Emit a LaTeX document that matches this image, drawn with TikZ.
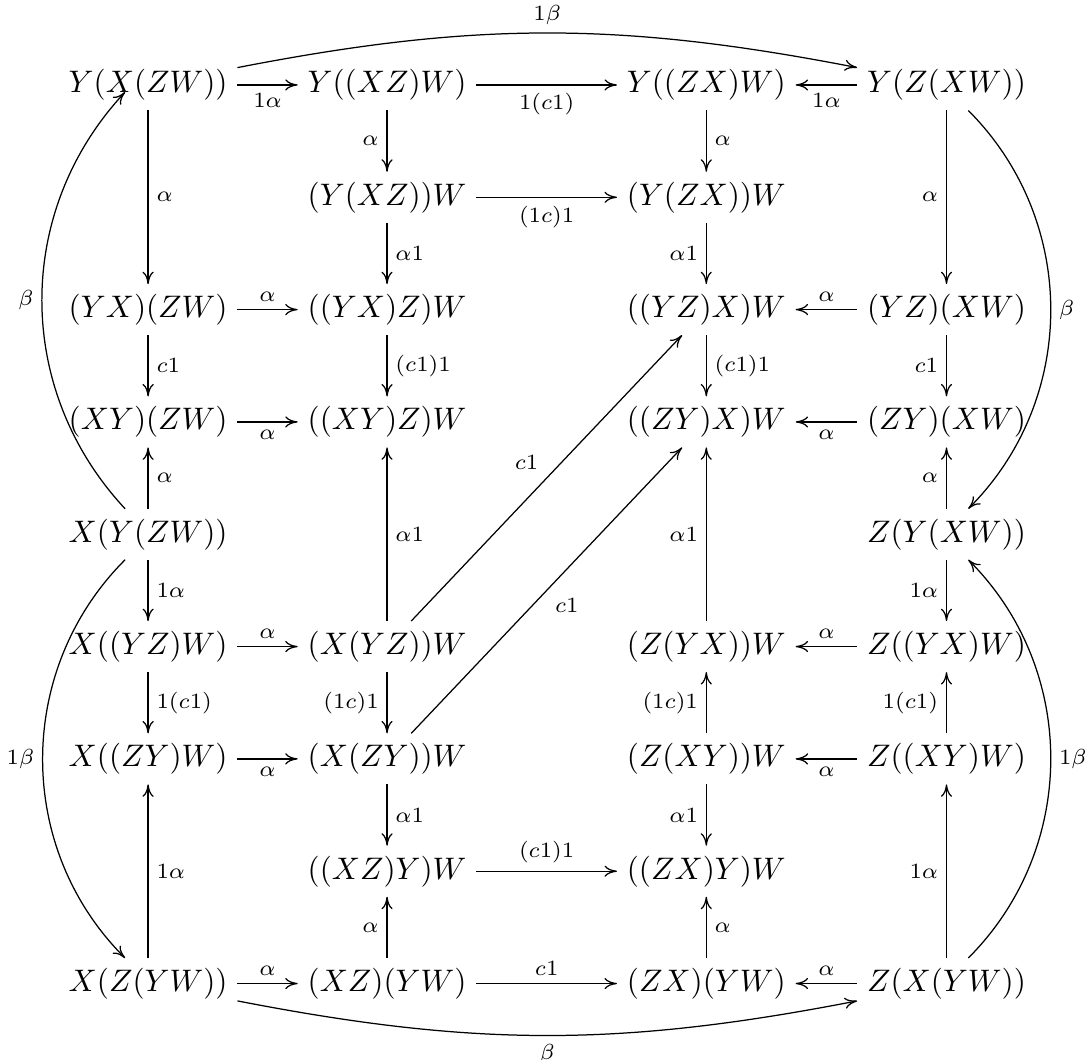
\documentclass[tikz,border=0pt]{standalone}
\usepackage{amsmath,amssymb}
\usepackage{tikz}
\usetikzlibrary{arrows.meta}

\begin{document}
\begin{tikzpicture}[x=1pt,y=1pt,
  ob/.style={inner sep=3pt,text height=7.5pt,text depth=2.5pt},
  arr/.style={-{Computer Modern Rightarrow[length=4pt,width=3.6pt]},line width=0.4pt},
  lab/.style={font=\scriptsize,inner sep=2.5pt},
]
  \useasboundingbox (0,0) rectangle (350,-340.5);
  % objects, row by row
  \node[ob] (a1) at (47.6,-27.3) {$Y(X(ZW))$};
  \node[ob] (b1) at (124.4,-27.3) {$Y((XZ)W)$};
  \node[ob] (c1) at (227,-27.3) {$Y((ZX)W)$};
  \node[ob] (d1) at (304.2,-27.3) {$Y(Z(XW))$};
  \node[ob] (b2) at (124.4,-63.4) {$(Y(XZ))W$};
  \node[ob] (c2) at (227,-63.4) {$(Y(ZX))W$};
  \node[ob] (a3) at (47.6,-99.5) {$(YX)(ZW)$};
  \node[ob] (b3) at (124.4,-99.5) {$((YX)Z)W$};
  \node[ob] (c3) at (227,-99.5) {$((YZ)X)W$};
  \node[ob] (d3) at (304.2,-99.5) {$(YZ)(XW)$};
  \node[ob] (a4) at (47.6,-135.6) {$(XY)(ZW)$};
  \node[ob] (b4) at (124.4,-135.6) {$((XY)Z)W$};
  \node[ob] (c4) at (227,-135.6) {$((ZY)X)W$};
  \node[ob] (d4) at (304.2,-135.6) {$(ZY)(XW)$};
  \node[ob] (a5) at (47.6,-171.7) {$X(Y(ZW))$};
  \node[ob] (d5) at (304.2,-171.7) {$Z(Y(XW))$};
  \node[ob] (a6) at (47.6,-207.8) {$X((YZ)W)$};
  \node[ob] (b6) at (124.4,-207.8) {$(X(YZ))W$};
  \node[ob] (c6) at (227,-207.8) {$(Z(YX))W$};
  \node[ob] (d6) at (304.2,-207.8) {$Z((YX)W)$};
  \node[ob] (a7) at (47.6,-243.9) {$X((ZY)W)$};
  \node[ob] (b7) at (124.4,-243.9) {$(X(ZY))W$};
  \node[ob] (c7) at (227,-243.9) {$(Z(XY))W$};
  \node[ob] (d7) at (304.2,-243.9) {$Z((XY)W)$};
  \node[ob] (b8) at (124.4,-280) {$((XZ)Y)W$};
  \node[ob] (c8) at (227,-280) {$((ZX)Y)W$};
  \node[ob] (a9) at (47.6,-316.1) {$X(Z(YW))$};
  \node[ob] (b9) at (124.4,-316.1) {$(XZ)(YW)$};
  \node[ob] (c9) at (227,-316.1) {$(ZX)(YW)$};
  \node[ob] (d9) at (304.2,-316.1) {$Z(X(YW))$};

  % upper half
  \draw[arr] (a1) -- node[lab,below]{$1\alpha$} (b1);
  \draw[arr] (b1) -- node[lab,below]{$1(c1)$} (c1);
  \draw[arr] (d1) -- node[lab,below]{$1\alpha$} (c1);
  \draw[arr] (a1) to[bend left=11] node[lab,above]{$1\beta$} (d1);
  \draw[arr] (b1) -- node[lab,left]{$\alpha$} (b2);
  \draw[arr] (c1) -- node[lab,right]{$\alpha$} (c2);
  \draw[arr] (b2) -- node[lab,below]{$(1c)1$} (c2);
  \draw[arr] (b2) -- node[lab,right]{$\alpha1$} (b3);
  \draw[arr] (c2) -- node[lab,left]{$\alpha1$} (c3);
  \draw[arr] (a1) -- node[lab,right]{$\alpha$} (a3);
  \draw[arr] (d1) -- node[lab,left]{$\alpha$} (d3);
  \draw[arr] (a3) -- node[lab,above]{$\alpha$} (b3);
  \draw[arr] (d3) -- node[lab,above]{$\alpha$} (c3);
  \draw[arr] (a3) -- node[lab,right]{$c1$} (a4);
  \draw[arr] (b3) -- node[lab,right]{$(c1)1$} (b4);
  \draw[arr] (c3) -- node[lab,right]{$(c1)1$} (c4);
  \draw[arr] (d3) -- node[lab,left]{$c1$} (d4);
  \draw[arr] (a4) -- node[lab,below]{$\alpha$} (b4);
  \draw[arr] (d4) -- node[lab,below]{$\alpha$} (c4);
  \draw[arr] (a5) -- node[lab,right]{$\alpha$} (a4);
  \draw[arr] (d5) -- node[lab,left]{$\alpha$} (d4);
  \draw[arr] ([xshift=-7.4pt]a5.north) to[bend left=43] node[lab,left]{$\beta$}
    ([xshift=-7.4pt,yshift=-2.3pt]a1.center);
  \draw[arr] ([xshift=7pt]d1.south) to[bend left=45] node[lab,right]{$\beta$}
    ([xshift=7pt]d5.north);

  % middle
  \draw[arr] (a5) -- node[lab,right]{$1\alpha$} (a6);
  \draw[arr] (d5) -- node[lab,left]{$1\alpha$} (d6);
  \draw[arr] (b6) -- node[lab,right]{$\alpha1$} (b4);
  \draw[arr] (c6) -- node[lab,left]{$\alpha1$} (c4);
  \draw[arr] (b6) -- node[lab,above left]{$c1$} (c3);
  \draw[arr] (b7) -- node[lab,below right]{$c1$} (c4);

  % lower half
  \draw[arr] (a6) -- node[lab,above]{$\alpha$} (b6);
  \draw[arr] (d6) -- node[lab,above]{$\alpha$} (c6);
  \draw[arr] (a6) -- node[lab,right]{$1(c1)$} (a7);
  \draw[arr] (b6) -- node[lab,left]{$(1c)1$} (b7);
  \draw[arr] (c7) -- node[lab,left]{$(1c)1$} (c6);
  \draw[arr] (d7) -- node[lab,left]{$1(c1)$} (d6);
  \draw[arr] (a7) -- node[lab,below]{$\alpha$} (b7);
  \draw[arr] (d7) -- node[lab,below]{$\alpha$} (c7);
  \draw[arr] (b7) -- node[lab,right]{$\alpha1$} (b8);
  \draw[arr] (c7) -- node[lab,left]{$\alpha1$} (c8);
  \draw[arr] (b8) -- node[lab,above]{$(c1)1$} (c8);
  \draw[arr] (a9) -- node[lab,right]{$1\alpha$} (a7);
  \draw[arr] (b9) -- node[lab,left]{$\alpha$} (b8);
  \draw[arr] (c9) -- node[lab,right]{$\alpha$} (c8);
  \draw[arr] (d9) -- node[lab,left]{$1\alpha$} (d7);
  \draw[arr] (a9) -- node[lab,above]{$\alpha$} (b9);
  \draw[arr] (b9) -- node[lab,above]{$c1$} (c9);
  \draw[arr] (d9) -- node[lab,above]{$\alpha$} (c9);
  \draw[arr] (a9) to[bend right=11] node[lab,below]{$\beta$} (d9);
  \draw[arr] ([xshift=-7.4pt]a5.south) to[bend right=45] node[lab,left]{$1\beta$}
    ([xshift=-7.4pt]a9.north);
  \draw[arr] ([xshift=7pt]d9.north) to[bend right=45] node[lab,right]{$1\beta$}
    ([xshift=7pt]d5.south);
\end{tikzpicture}
\end{document}
